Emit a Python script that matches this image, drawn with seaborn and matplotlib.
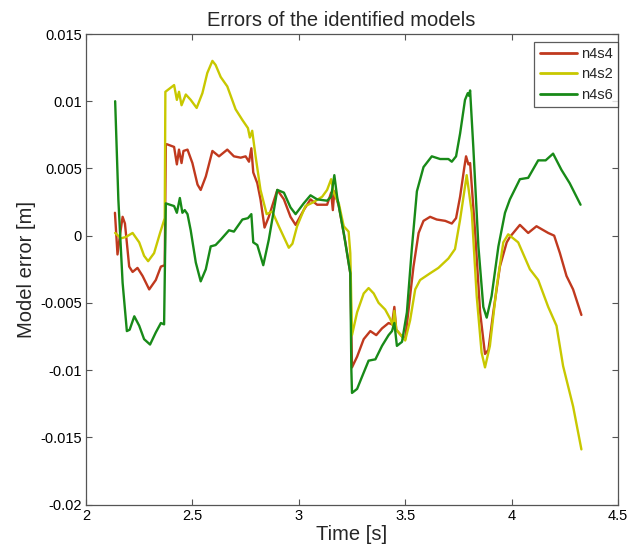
import matplotlib
matplotlib.use("Agg")
import matplotlib.pyplot as plt
import seaborn as sns
import pandas as pd

# ---- data ----
models = ["n4s4", "n4s2", "n4s6"]

x_n4s4 = [2.136, 2.148, 2.161, 2.172, 2.183, 2.203, 2.219, 2.242, 2.266, 2.297,
          2.328, 2.352, 2.370, 2.375, 2.380, 2.414, 2.427, 2.437, 2.449, 2.458,
          2.477, 2.500, 2.524, 2.539, 2.563, 2.594, 2.625, 2.664, 2.695, 2.727,
          2.750, 2.766, 2.777, 2.786, 2.805, 2.820, 2.839, 2.859, 2.899, 2.930,
          2.961, 2.985, 3.023, 3.055, 3.086, 3.133, 3.152, 3.160, 3.167, 3.188,
          3.219, 3.242, 3.250, 3.274, 3.305, 3.336, 3.364, 3.391, 3.422, 3.438,
          3.449, 3.458, 3.485, 3.500, 3.523, 3.539, 3.563, 3.586, 3.617, 3.648,
          3.688, 3.719, 3.739, 3.758, 3.778, 3.786, 3.797, 3.805, 3.828, 3.852,
          3.875, 3.891, 3.914, 3.945, 3.977, 3.992, 4.039, 4.078, 4.117, 4.172,
          4.200, 4.227, 4.258, 4.289, 4.328]
y_n4s4 = [0.0017, -0.0014, 0.0002, 0.0014, 0.0009, -0.0023, -0.0027, -0.0024, -0.0030, -0.0040,
          -0.0033, -0.0023, -0.0022, 0.0068, 0.0068, 0.0066, 0.0053, 0.0064, 0.0054, 0.0063,
          0.0064, 0.0054, 0.0038, 0.0034, 0.0044, 0.0063, 0.0059, 0.0064, 0.0059, 0.0058,
          0.0059, 0.0055, 0.0065, 0.0047, 0.0039, 0.0027, 0.0006, 0.0014, 0.0034, 0.0027,
          0.0014, 0.0008, 0.0019, 0.0027, 0.0023, 0.0023, 0.0032, 0.0019, 0.0033, 0.0022,
          -0.0005, -0.0028, -0.0098, -0.0090, -0.0077, -0.0071, -0.0074, -0.0069, -0.0065, -0.0066,
          -0.0053, -0.0070, -0.0075, -0.0077, -0.0045, -0.0023, 0.0002, 0.0011, 0.0014, 0.0012,
          0.0011, 0.0009, 0.0013, 0.0029, 0.0051, 0.0059, 0.0053, 0.0054, 0.0004, -0.0057,
          -0.0088, -0.0085, -0.0057, -0.0023, -0.0005, -0.0001, 0.0008, 0.0002, 0.0007, 0.0002,
          0.0000, -0.0013, -0.0030, -0.0040, -0.0059]

x_n4s2 = [2.137, 2.164, 2.1875, 2.219, 2.250, 2.273, 2.292, 2.320, 2.348, 2.370,
          2.373, 2.414, 2.427, 2.437, 2.449, 2.469, 2.492, 2.520, 2.547, 2.570,
          2.594, 2.609, 2.633, 2.664, 2.703, 2.735, 2.761, 2.770, 2.781, 2.797,
          2.820, 2.849, 2.875, 2.906, 2.953, 2.970, 2.992, 3.031, 3.070, 3.110,
          3.133, 3.152, 3.164, 3.188, 3.211, 3.234, 3.242, 3.250, 3.274, 3.305,
          3.328, 3.352, 3.375, 3.406, 3.430, 3.442, 3.449, 3.458, 3.485, 3.500,
          3.523, 3.547, 3.570, 3.617, 3.656, 3.703, 3.734, 3.758, 3.789, 3.813,
          3.836, 3.859, 3.875, 3.898, 3.930, 3.961, 3.984, 4.031, 4.086, 4.125,
          4.172, 4.211, 4.242, 4.289, 4.328]
y_n4s2 = [0.0002, -0.0002, -0.0001, 0.0002, -0.0005, -0.0015, -0.0019, -0.0013, 0.0002, 0.0013,
          0.0107, 0.0112, 0.0101, 0.0107, 0.0097, 0.0105, 0.0101, 0.0095, 0.0106, 0.0121,
          0.0130, 0.0127, 0.0118, 0.0111, 0.0094, 0.0086, 0.0080, 0.0073, 0.0078, 0.0059,
          0.0034, 0.0016, 0.0018, 0.0007, -0.0009, -0.0006, 0.0007, 0.0022, 0.0025, 0.0029,
          0.0034, 0.0042, 0.0032, 0.0024, 0.0007, 0.0003, -0.0013, -0.0074, -0.0057, -0.0043,
          -0.0039, -0.0043, -0.0050, -0.0055, -0.0062, -0.0067, -0.0056, -0.0070, -0.0075, -0.0078,
          -0.0063, -0.0040, -0.0033, -0.0028, -0.0024, -0.0017, -0.0010, 0.0012, 0.0045, 0.0017,
          -0.0045, -0.0087, -0.0098, -0.0082, -0.0038, -0.0005, 0.0001, -0.0005, -0.0025, -0.0033,
          -0.0053, -0.0067, -0.0097, -0.0127, -0.0159]

x_n4s6 = [2.137, 2.152, 2.172, 2.192, 2.205, 2.227, 2.250, 2.273, 2.301, 2.328,
          2.352, 2.367, 2.375, 2.414, 2.427, 2.441, 2.453, 2.464, 2.477, 2.492,
          2.516, 2.539, 2.563, 2.586, 2.609, 2.633, 2.672, 2.695, 2.735, 2.761,
          2.777, 2.786, 2.805, 2.833, 2.859, 2.899, 2.930, 2.961, 2.985, 3.023,
          3.055, 3.086, 3.133, 3.152, 3.167, 3.180, 3.211, 3.242, 3.247, 3.250,
          3.274, 3.297, 3.328, 3.360, 3.391, 3.422, 3.438, 3.449, 3.461, 3.485,
          3.508, 3.531, 3.555, 3.586, 3.625, 3.664, 3.703, 3.719, 3.739, 3.758,
          3.781, 3.794, 3.800, 3.805, 3.820, 3.844, 3.867, 3.883, 3.906, 3.938,
          3.969, 3.992, 4.039, 4.078, 4.125, 4.160, 4.195, 4.234, 4.273, 4.324]
y_n4s6 = [0.0100, 0.0027, -0.0035, -0.0071, -0.0070, -0.0060, -0.0067, -0.0077, -0.0081, -0.0072,
          -0.0065, -0.0066, 0.0024, 0.0022, 0.0017, 0.0028, 0.0017, 0.0019, 0.0016, 0.0004,
          -0.0020, -0.0034, -0.0025, -0.0008, -0.0007, -0.0003, 0.0004, 0.0003, 0.0012, 0.0013,
          0.0016, -0.0005, -0.0007, -0.0022, -0.0003, 0.0034, 0.0032, 0.0021, 0.0016, 0.0024,
          0.0030, 0.0027, 0.0026, 0.0029, 0.0045, 0.0029, 0.0002, -0.0028, -0.0100, -0.0117,
          -0.0114, -0.0105, -0.0093, -0.0092, -0.0082, -0.0074, -0.0071, -0.0065, -0.0082, -0.0079,
          -0.0057, -0.0010, 0.0033, 0.0051, 0.0059, 0.0057, 0.0057, 0.0055, 0.0059, 0.0076,
          0.0101, 0.0106, 0.0104, 0.0108, 0.0066, -0.0008, -0.0053, -0.0061, -0.0045, -0.0008,
          0.0017, 0.0027, 0.0042, 0.0043, 0.0056, 0.0056, 0.0061, 0.0049, 0.0039, 0.0023]

x_ticks = [2, 2.5, 3, 3.5, 4, 4.5]
x_tick_labels = ["2", "2.5", "3", "3.5", "4", "4.5"]
y_ticks = [-0.02, -0.015, -0.01, -0.005, 0, 0.005, 0.01, 0.015]
y_tick_labels = ["-0.02", "-0.015", "-0.01", "-0.005", "0", "0.005", "0.01", "0.015"]

colors = {"n4s4": "#c0391e", "n4s2": "#c8c800", "n4s6": "#188a18"}

frames = []
for name, xs, ys in [("n4s4", x_n4s4, y_n4s4), ("n4s2", x_n4s2, y_n4s2), ("n4s6", x_n4s6, y_n4s6)]:
    frames.append(pd.DataFrame({"t": xs, "err": ys, "model": name}))
df = pd.concat(frames, ignore_index=True)

sns.set_style("ticks")
plt.rcParams["font.family"] = ["Liberation Sans", "DejaVu Sans"]

fig = plt.figure(figsize=(6.43, 5.52), dpi=100)
ax = fig.add_axes([86 / 643, 1 - 504.5 / 552, (618 - 86) / 643, (504.5 - 34) / 552])

sns.lineplot(data=df, x="t", y="err", hue="model", hue_order=models, palette=colors,
             estimator=None, sort=False, units="model", linewidth=1.7, ax=ax)

ax.set_xlim(2, 4.5)
ax.set_ylim(-0.02, 0.015)
ax.set_xticks(x_ticks)
ax.set_xticklabels(x_tick_labels)
ax.set_yticks(y_ticks)
ax.set_yticklabels(y_tick_labels)
ax.tick_params(direction="in", length=4, width=0.8, color="#555555", labelsize=10.5,
               labelcolor="black", top=True, right=True, pad=3)
for s in ax.spines.values():
    s.set_visible(True)
    s.set_color("#555555")
    s.set_linewidth(0.9)

ax.set_title("Errors of the identified models", fontsize=14.5, pad=6, x=0.48)
ax.set_xlabel("Time [s]", fontsize=14.5, labelpad=2)
ax.set_ylabel("Model error [m]", fontsize=14.5, labelpad=3)

handles, labels = ax.get_legend_handles_labels()
leg = ax.legend(handles, labels, loc="upper right", bbox_to_anchor=(1.0, 1 - 7.7 / 470.5),
                borderaxespad=0, fontsize=10.5, frameon=True, fancybox=False,
                handlelength=2.6, handletextpad=0.25, labelspacing=0.45, borderpad=0.35)
leg.get_frame().set_edgecolor("#333333")
leg.get_frame().set_linewidth(0.9)
for h in leg.get_lines():
    h.set_linewidth(2)

fig.savefig("out.png", dpi=100, facecolor="white")
